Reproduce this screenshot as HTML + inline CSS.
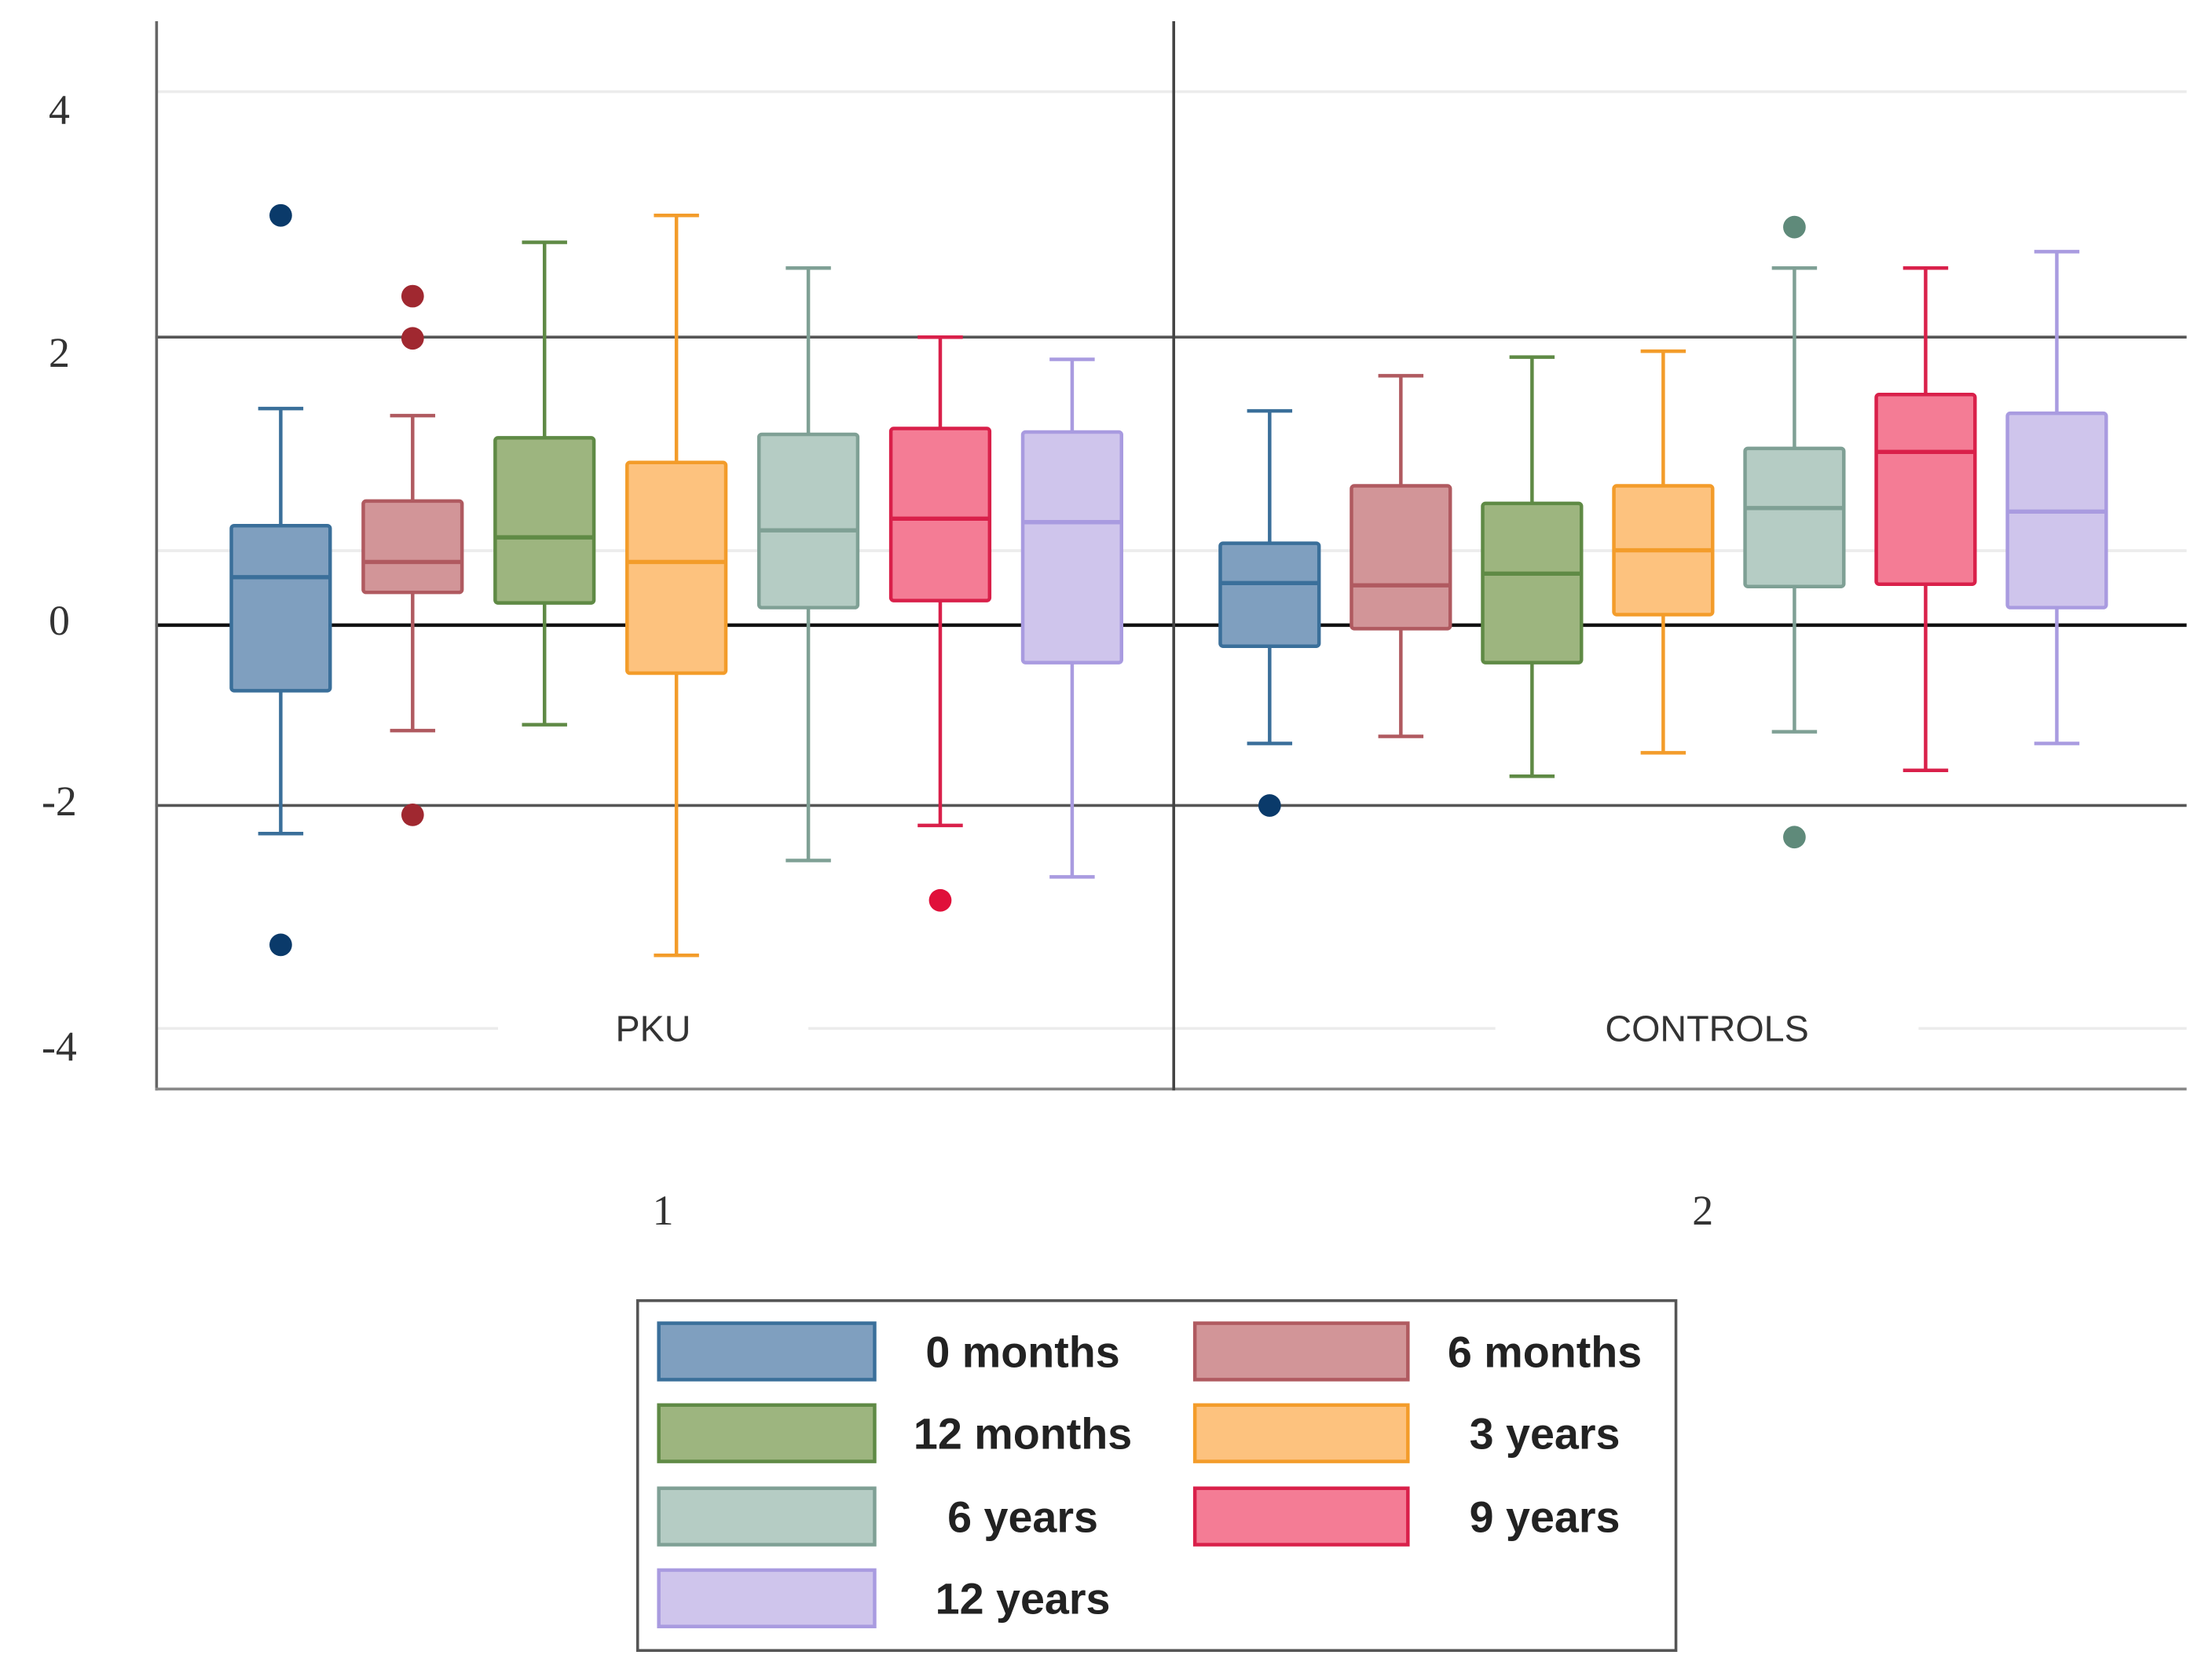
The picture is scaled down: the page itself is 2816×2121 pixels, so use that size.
<!DOCTYPE html>
<html><head><meta charset="utf-8"><style>
html,body{margin:0;padding:0;background:#fff}
svg{display:block}
text{font-family:"Liberation Sans",sans-serif}
text.serif{font-family:"Liberation Serif",serif}
</style></head><body>
<svg id="chart" width="2816" height="2121" viewBox="0 0 1568 1181" preserveAspectRatio="none" xmlns="http://www.w3.org/2000/svg">
<rect x="0" y="0" width="1568" height="1181" fill="#fff"/>
<g id="grid"></g>
<g id="marks"></g>
<g id="legend"></g>
</svg>
<script>
const groups = ["PKU","CONTROLS"];
const series = ["0 months","6 months","12 months","3 years","6 years","9 years","12 years"];
const yTicks = [4,2,0,-2,-4];
const whiskerHigh = [[1.39,1.33,2.81,3.04,2.59,2.0,1.81],[1.37,1.67,1.83,1.88,2.59,2.59,2.73]];
const q3 = [[0.39,0.60,1.14,0.93,1.17,1.22,1.19],[0.24,0.73,0.58,0.73,1.05,1.51,1.35]];
const median = [[-0.05,0.08,0.29,0.08,0.35,0.45,0.42],[-0.10,-0.12,-0.02,0.18,0.54,1.02,0.51]];
const q1 = [[-1.02,-0.18,-0.27,-0.87,-0.31,-0.25,-0.78],[-0.64,-0.49,-0.78,-0.37,-0.13,-0.11,-0.31]];
const whiskerLow = [[-2.24,-1.36,-1.31,-3.28,-2.47,-2.17,-2.61],[-1.47,-1.41,-1.75,-1.55,-1.37,-1.70,-1.47]];
const outliers = [[[3.04,-3.19],[2.35,1.99,-2.08],[],[],[],[-2.81],[]],[[-2.0],[],[],[],[2.94,-2.27],[],[]]];
const refLines = [2,-2,-0.46];

const labelShift={"4":5,"2":11,"0":35,"-2":-3,"-4":5};
const fills=["#7f9fbf","#d29598","#9db57f","#fdc27e","#b5ccc4","#f47c95","#cfc5ec"];
const strokes=["#3a6f9a","#b05a60","#5f8a45","#f39c2a","#7fa095","#d9204a","#a99be0"];
const dots=["#0a3a6a","#a02830","#5f8a45","#f39c2a","#5f8a7a","#e0103a","#a99be0"];
const NS="http://www.w3.org/2000/svg";
const y=v=>405-83*v;
const gx=(g,s)=>(g===0?199:900)+s*(g===0?93.5:93);
function el(t,a,p){const e=document.createElementNS(NS,t);for(const k in a)e.setAttribute(k,a[k]);p.appendChild(e);return e;}
const grid=document.getElementById('grid'),marks=document.getElementById('marks'),leg=document.getElementById('legend');
[4,0.08,-4].forEach(v=>{const l=el('line',{x1:110,x2:1550,y1:y(v)-8,y2:y(v)-8,stroke:'#ececec','stroke-width':2},grid);

});
refLines.forEach((v,i)=>{const l=el('line',{x1:110,x2:1550,y1:y(v),y2:y(v),stroke:i==2?'#111':'#555','stroke-width':i==2?2.5:2},grid);

});
el('line',{x1:111,x2:111,y1:15,y2:773,stroke:'#666','stroke-width':2},grid);
el('line',{x1:110,x2:1550,y1:772,y2:772,stroke:'#888','stroke-width':2},grid);
el('line',{x1:832,x2:832,y1:15,y2:773,stroke:'#444','stroke-width':2},grid);
yTicks.forEach(v=>{const t=el('text',{class:'serif',x:42,y:y(v)+10+labelShift[String(v)],'text-anchor':'middle','font-size':30,fill:'#333'},grid);t.textContent=(v<0?'-':'')+Math.abs(v);

});
groups.forEach((g,i)=>{const cx=i==0?463:1210;
el('rect',{x:cx-(i?150:110),y:705,width:i?300:220,height:40,fill:'#fff'},grid);
const t=el('text',{x:cx,y:738,'text-anchor':'middle','font-size':26,fill:'#333'},grid);t.textContent=g;


const n=el('text',{class:'serif',x:i?1207:470,y:868,'text-anchor':'middle','font-size':30,fill:'#333'},grid);n.textContent=String(i+1);

});
groups.forEach((g,gi)=>series.forEach((s,si)=>{
const cx=gx(gi,si),w=70,st=strokes[si];
const b=el('g',{},marks);


el('line',{x1:cx,x2:cx,y1:y(whiskerHigh[gi][si]),y2:y(q3[gi][si]),stroke:st,'stroke-width':2.5},b);
el('line',{x1:cx,x2:cx,y1:y(q1[gi][si]),y2:y(whiskerLow[gi][si]),stroke:st,'stroke-width':2.5},b);
el('line',{x1:cx-16,x2:cx+16,y1:y(whiskerHigh[gi][si]),y2:y(whiskerHigh[gi][si]),stroke:st,'stroke-width':2.5},b);
el('line',{x1:cx-16,x2:cx+16,y1:y(whiskerLow[gi][si]),y2:y(whiskerLow[gi][si]),stroke:st,'stroke-width':2.5},b);
el('rect',{x:cx-w/2,y:y(q3[gi][si]),width:w,height:y(q1[gi][si])-y(q3[gi][si]),fill:fills[si],stroke:st,'stroke-width':2.5,rx:2},b);
el('line',{x1:cx-w/2,x2:cx+w/2,y1:y(median[gi][si]),y2:y(median[gi][si]),stroke:st,'stroke-width':3},b);
outliers[gi][si].forEach(o=>{const c=el('circle',{cx:cx,cy:y(o),r:8,fill:dots[si]},marks);

});
}));
el('rect',{x:452,y:922,width:736,height:248,fill:'#fff',stroke:'#555','stroke-width':2},leg);
const pos=[[467,938,0],[847,938,1],[467,996,0],[847,996,1],[467,1055,0],[847,1055,1],[467,1113,0]];
series.forEach((s,i)=>{const [x,yy,c]=pos[i];
const it=el('g',{},leg);


el('rect',{x:x,y:yy,width:c?151:153,height:40,fill:fills[i],stroke:strokes[i],'stroke-width':2.5},it);
const t=el('text',{x:c?1095:725,y:yy+31,'text-anchor':'middle','font-size':31,'font-weight':'bold',fill:'#222'},it);t.textContent=s;});
</script>
</body></html>
